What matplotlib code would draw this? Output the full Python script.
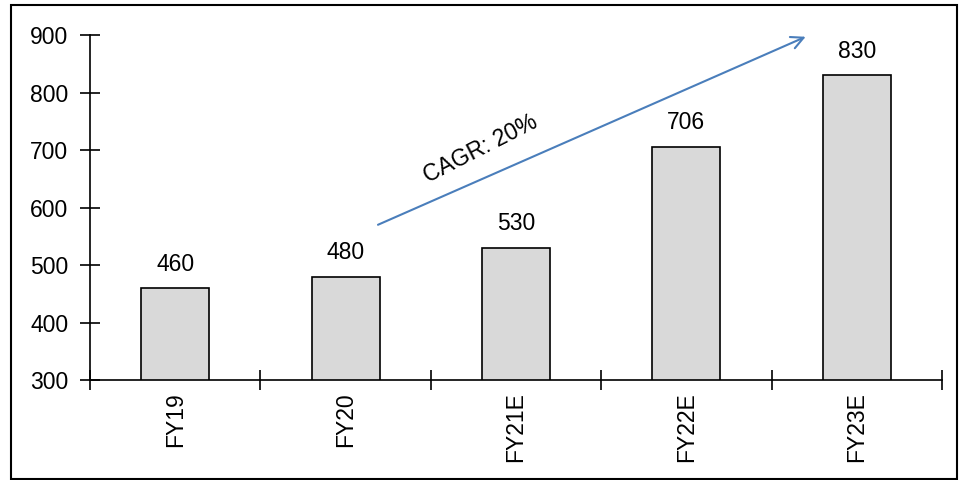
import matplotlib
matplotlib.use("Agg")
import matplotlib.pyplot as plt
from matplotlib.patches import Rectangle

# revenue by fiscal year (estimates for FY21E onward)
years = ['FY19', 'FY20', 'FY21E', 'FY22E', 'FY23E']
values = [460, 480, 530, 706, 830]
y_ticks = [300, 400, 500, 600, 700, 800, 900]

# growth arrow endpoints in data coordinates
arrow_start = (1.19, 570)
arrow_end = (3.70, 897)
cagr_label = 'CAGR: 20%'

plt.rcParams['font.family'] = ['Liberation Sans', 'DejaVu Sans']
fs = 16.5

fig = plt.figure(figsize=(9.6, 4.8), dpi=100)
ax = fig.add_axes([0.09375, 0.2083, 0.8875, 0.7187])

x = list(range(len(years)))
ax.bar(x, values, width=0.4, color='#d9d9d9', edgecolor='black', linewidth=1.2, zorder=2)

for xi, v in zip(x, values):
    ax.annotate(str(v), (xi, v), xytext=(0, 9), textcoords='offset points',
                ha='center', va='bottom', fontsize=fs)

ax.set_xlim(-0.5, len(years) - 0.5)
ax.set_ylim(300, 900)
ax.set_yticks(y_ticks)

# category labels sit at bar centres, tick marks sit between categories
ax.set_xticks(x)
ax.set_xticklabels(years, rotation=90, fontsize=fs)
ax.tick_params(axis='x', which='major', length=0, pad=9)
ax.set_xticks([i - 0.5 for i in range(len(years) + 1)], minor=True)
ax.tick_params(axis='x', which='minor', direction='inout', length=14, width=1.2)
ax.tick_params(axis='y', direction='inout', length=15, width=1.2, labelsize=fs, pad=8)

for side in ['top', 'right']:
    ax.spines[side].set_visible(False)
for side in ['left', 'bottom']:
    ax.spines[side].set_linewidth(1.2)

ax.annotate('', xy=arrow_end, xytext=arrow_start,
            arrowprops=dict(arrowstyle='->', color='#4a7ebb', lw=1.5,
                            mutation_scale=22, shrinkA=0, shrinkB=0))
ax.text(1.79, 702, cagr_label, rotation=27, ha='center', va='center', fontsize=fs)

# outer border around the whole chart
fig.patches.append(Rectangle((11 / 960, 1 / 480), 946 / 960, 474 / 480,
                             transform=fig.transFigure, fill=False,
                             edgecolor='black', linewidth=1.5))

fig.savefig('out.png', dpi=100)
